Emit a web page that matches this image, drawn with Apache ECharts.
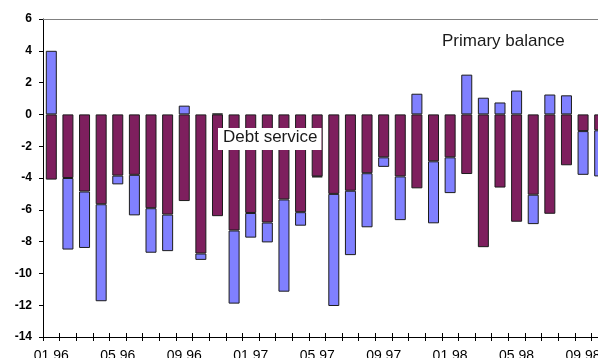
<!DOCTYPE html>
<html>
<head>
<meta charset="utf-8">
<script src="https://cdn.jsdelivr.net/npm/echarts@6/dist/echarts.min.js"></script>
<style>
  html, body { margin: 0; padding: 0; background: #fff; }
  #chart { width: 598px; height: 358px; }
</style>
</head>
<body>
<div id="chart"></div>
<script>
// Monthly fiscal figures, 01.96 - 10.98 (% of GDP)
const months = [
  '01.96','02.96','03.96','04.96','05.96','06.96','07.96','08.96','09.96','10.96','11.96','12.96',
  '01.97','02.97','03.97','04.97','05.97','06.97','07.97','08.97','09.97','10.97','11.97','12.97',
  '01.98','02.98','03.98','04.98','05.98','06.98','07.98','08.98','09.98','10.98'
];

const debtService = [
  -4.1, -4.0, -4.85, -5.65, -3.85, -3.8, -5.9, -6.3, -5.45, -8.75, -6.4, -7.3,
  -6.2, -6.8, -5.35, -6.15, -3.9, -5.0, -4.8, -3.7, -2.7, -3.9, -4.65, -2.95,
  -2.7, -3.75, -8.35, -4.6, -6.75, -5.05, -6.25, -3.2, -1.05, -1.0
];

const primaryBalance = [
  4.0, -4.5, -3.55, -6.1, -0.55, -2.55, -2.8, -2.3, 0.55, -0.4, 0.05, -4.6,
  -1.55, -1.25, -5.8, -0.85, -0.05, -7.05, -4.05, -3.4, -0.6, -2.75, 1.3, -3.9,
  -2.25, 2.5, 1.05, 0.75, 1.5, -1.85, 1.25, 1.2, -2.75, -2.9
];

const yTicks = { min: -14, max: 6, step: 2 };

const FONT = "'Liberation Sans', Arial, sans-serif";

const chart = echarts.init(document.getElementById('chart'), null, { renderer: 'canvas' });

chart.setOption({
  animation: false,
  backgroundColor: '#ffffff',
  grid: { left: 43, right: -10, top: 19, bottom: 21, containLabel: false, outerBoundsMode: 'none' },
  xAxis: [
    {
      type: 'category',
      data: months,
      position: 'bottom',
      axisLine: { onZero: false, lineStyle: { color: '#000', width: 1 } },
      axisTick: { show: true, interval: 0, length: 4, lineStyle: { color: '#000' } },
      axisLabel: { interval: 3, margin: 12, fontSize: 14, color: '#000', fontFamily: FONT },
      splitLine: { show: false }
    },
    {
      // inner half of the bottom tick marks
      type: 'category',
      data: months,
      position: 'bottom',
      axisLine: { show: false, onZero: false },
      axisTick: { show: true, inside: true, interval: 0, length: 4, lineStyle: { color: '#000' } },
      axisLabel: { show: false },
      splitLine: { show: false }
    },
    {
      // top border of the plot area
      type: 'category',
      data: months,
      position: 'top',
      axisLine: { show: true, onZero: false, lineStyle: { color: '#808080', width: 1 } },
      axisTick: { show: false },
      axisLabel: { show: false },
      splitLine: { show: false }
    }
  ],
  yAxis: {
    type: 'value',
    min: yTicks.min,
    max: yTicks.max,
    interval: yTicks.step,
    axisLine: { show: true, lineStyle: { color: '#000', width: 1 } },
    axisTick: { show: true, length: 4, lineStyle: { color: '#000' } },
    axisLabel: { margin: 11, fontSize: 12, fontWeight: 'bold', color: '#000', fontFamily: FONT },
    splitLine: { show: false }
  },
  series: [
    {
      name: 'Debt service',
      type: 'bar',
      stack: 'total',
      xAxisIndex: 0,
      barWidth: 11,
      data: debtService,
      itemStyle: { color: '#7E1F5E', borderColor: '#1c1c1c', borderWidth: 1 }
    },
    {
      name: 'Primary balance',
      type: 'bar',
      stack: 'total',
      xAxisIndex: 0,
      barWidth: 11,
      data: primaryBalance,
      itemStyle: { color: '#8080FF', borderColor: '#1c1c1c', borderWidth: 1 }
    }
  ],
  graphic: [
    {
      type: 'text',
      left: 442,
      top: 33,
      style: { text: 'Primary balance', fontSize: 17, fontFamily: FONT, fill: '#1a1a1a' }
    },
    {
      type: 'text',
      left: 218,
      top: 128,
      z: 10,
      style: {
        text: 'Debt service', fontSize: 17, fontFamily: FONT, fill: '#1a1a1a',
        backgroundColor: '#ffffff', padding: [1, 4, 4, 5]
      }
    }
  ]
});
</script>
</body>
</html>
